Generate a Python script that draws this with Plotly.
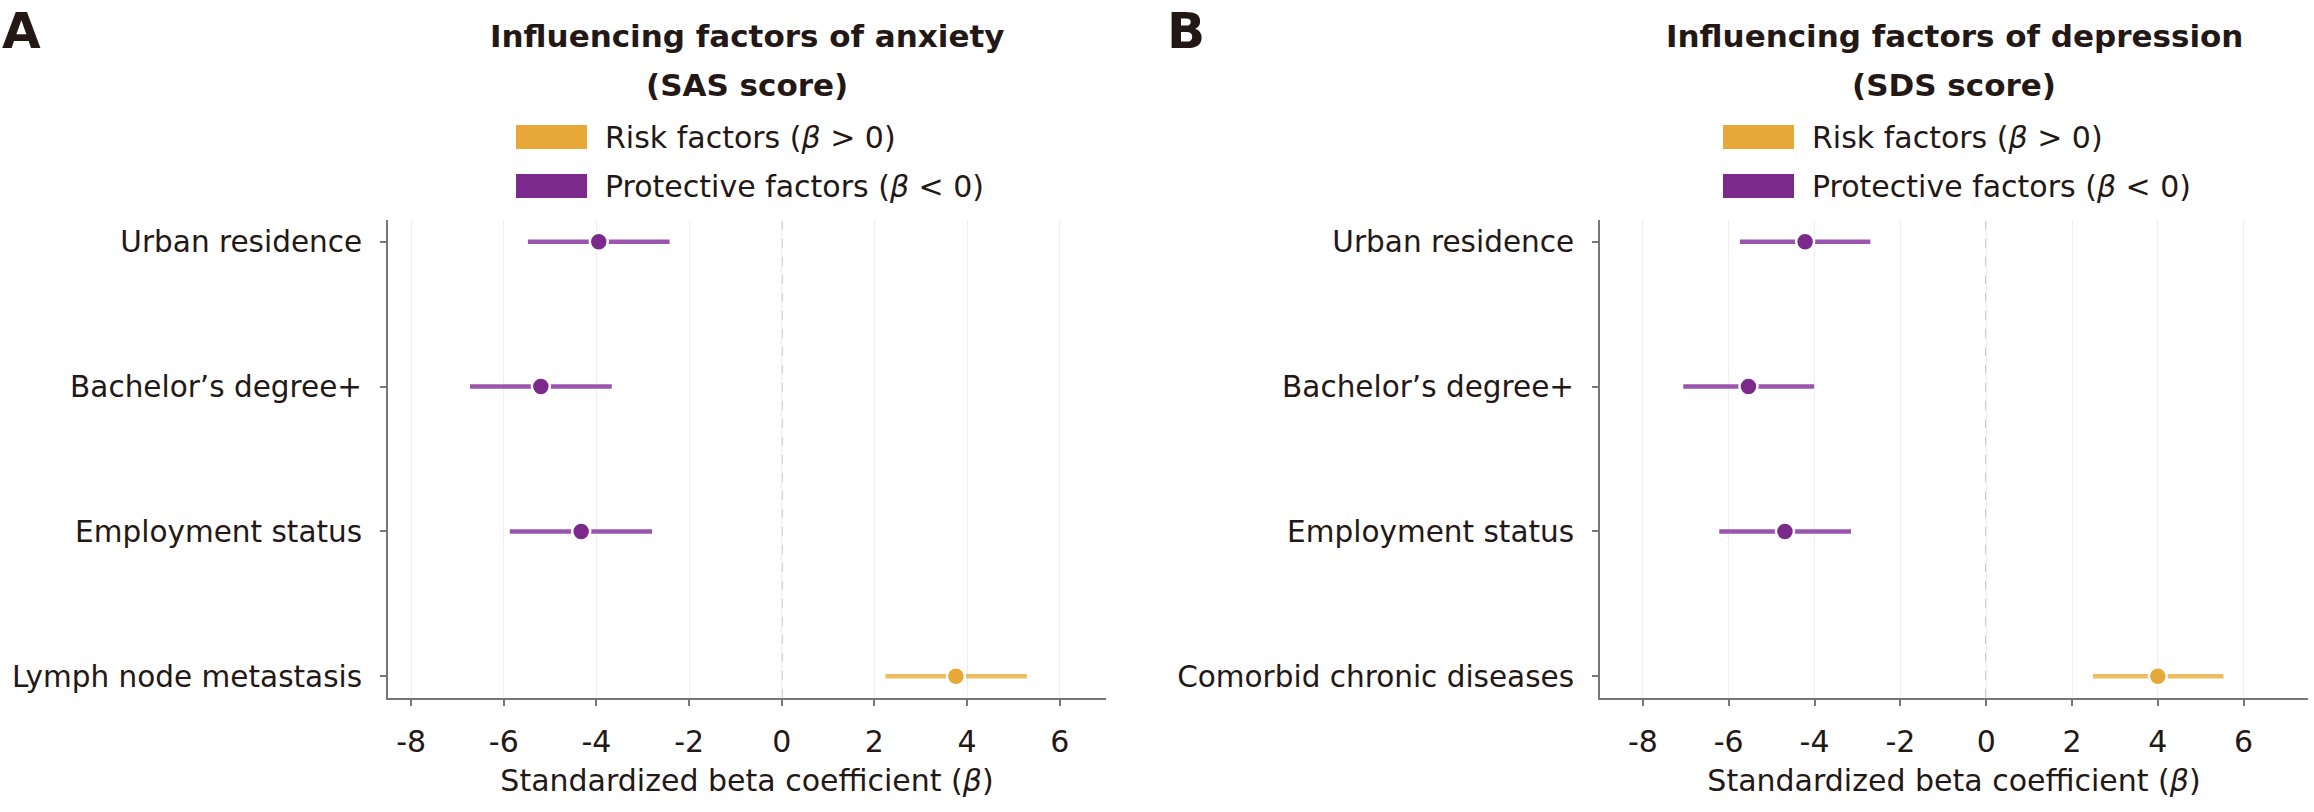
import plotly.graph_objects as go

W, H = 2314, 812

# panel A: anxiety (SAS)
factors_sas = ["Urban residence", "Bachelor’s degree+", "Employment status", "Lymph node metastasis"]
beta_sas = [-3.95, -5.20, -4.33, 3.76]
ci_low_sas = [-5.48, -6.73, -5.87, 2.24]
ci_high_sas = [-2.42, -3.67, -2.80, 5.29]

# panel B: depression (SDS)
factors_sds = ["Urban residence", "Bachelor’s degree+", "Employment status", "Comorbid chronic diseases"]
beta_sds = [-4.22, -5.54, -4.69, 4.00]
ci_low_sds = [-5.74, -7.06, -6.22, 2.49]
ci_high_sds = [-2.70, -4.01, -3.15, 5.53]

x_ticks = [-8, -6, -4, -2, 0, 2, 4, 6]
x_tick_labels = ["-8", "-6", "-4", "-2", "0", "2", "4", "6"]

RISK = "#E8A838"
RISK_LINE = "#EEBD63"
PROT = "#7B2A8C"
PROT_LINE = "#9B55AF"
FONT = "DejaVu Sans"
TXT = "#231815"


def px_x(p):
    return p / W


def px_y(p):
    return 1 - p / H


def add_forest(fig, factors, beta, lo, hi, xa, ya):
    for is_risk in (False, True):
        idx = [i for i, b in enumerate(beta) if (b > 0) == is_risk]
        if not idx:
            continue
        fig.add_trace(go.Scatter(
            x=[beta[i] for i in idx],
            y=[factors[i] for i in idx],
            xaxis=xa, yaxis=ya,
            mode="markers",
            marker=dict(size=18, color=RISK if is_risk else PROT,
                        line=dict(color="white", width=2.5)),
            error_x=dict(type="data", symmetric=False,
                         array=[hi[i] - beta[i] for i in idx],
                         arrayminus=[beta[i] - lo[i] for i in idx],
                         color=RISK_LINE if is_risk else PROT_LINE,
                         thickness=4.5, width=0),
            showlegend=False,
        ))


fig = go.Figure()
add_forest(fig, factors_sas, beta_sas, ci_low_sas, ci_high_sas, "x", "y")
add_forest(fig, factors_sds, beta_sds, ci_low_sds, ci_high_sds, "x2", "y2")

xaxis_common = dict(
    tickvals=x_ticks, ticktext=x_tick_labels,
    showgrid=True, gridcolor="#EEEEEE", gridwidth=1, zeroline=False,
    showline=True, linecolor="#777777", linewidth=2,
    ticks="outside", ticklen=6, tickcolor="#777777", tickwidth=2,
    tickfont=dict(family=FONT, size=30, color=TXT),
    ticklabelstandoff=10,
    title=dict(text="Standardized beta coefficient (<i>β</i>)",
               font=dict(family=FONT, size=30, color=TXT), standoff=12),
    fixedrange=True,
)
yaxis_common = dict(
    showgrid=False, zeroline=False,
    showline=True, linecolor="#777777", linewidth=2,
    ticks="outside", ticklen=6, tickcolor="#777777", tickwidth=2,
    tickfont=dict(family=FONT, size=29.5, color=TXT),
    ticklabelstandoff=12,
    type="category",
    range=[3.15, -0.15],
    domain=[px_y(698), px_y(220)],
    fixedrange=True,
)

fig.update_layout(
    width=W, height=H,
    margin=dict(l=0, r=0, t=0, b=0),
    paper_bgcolor="white", plot_bgcolor="white",
    font=dict(family=FONT, color=TXT),
    xaxis=dict(xaxis_common, domain=[px_x(388), px_x(1106)], range=[-8.5, 7], anchor="y"),
    yaxis=dict(yaxis_common, categoryarray=factors_sas, anchor="x"),
    xaxis2=dict(xaxis_common, domain=[px_x(1600), px_x(2308)], range=[-9, 7.5], anchor="y2"),
    yaxis2=dict(yaxis_common, categoryarray=factors_sds, anchor="x2"),
)

# dashed reference line at beta = 0
for xr, yr in (("x", "y domain"), ("x2", "y2 domain")):
    fig.add_shape(type="line", xref=xr, yref=yr, x0=0, x1=0, y0=0, y1=1,
                  line=dict(color="#A8A8A8", width=1.5, dash="dash"), layer="below")

panels = [
    ("A", 0, 747, "Influencing factors of anxiety", "(SAS score)"),
    ("B", 1165, 1954, "Influencing factors of depression", "(SDS score)"),
]
for letter, lx, cx, t1, t2 in panels:
    fig.add_annotation(text="<b>%s</b>" % letter, x=px_x(lx), y=px_y(0), xref="paper", yref="paper",
                       xanchor="left", yanchor="top", showarrow=False,
                       font=dict(family=FONT, size=50, color=TXT))
    for txt, yy in ((t1, 36), (t2, 85)):
        fig.add_annotation(text="<b>%s</b>" % txt, x=px_x(cx), y=px_y(yy), xref="paper", yref="paper",
                           xanchor="center", yanchor="middle", showarrow=False,
                           font=dict(family=FONT, size=31, color=TXT))
    # legend swatches and labels
    for col, label, yy in ((RISK, "Risk factors (<i>β</i> > 0)", 137),
                           (PROT, "Protective factors (<i>β</i> < 0)", 186)):
        fig.add_shape(type="rect", xref="paper", yref="paper",
                      x0=px_x(cx - 231), x1=px_x(cx - 160),
                      y0=px_y(yy + 12), y1=px_y(yy - 12),
                      fillcolor=col, line=dict(width=0))
        fig.add_annotation(text=label, x=px_x(cx - 144), y=px_y(yy), xref="paper", yref="paper",
                           xanchor="left", yanchor="middle", showarrow=False,
                           font=dict(family=FONT, size=30, color=TXT))

# the page body has a default 8px margin; drop it so the figure sits at 0,0
fig.write_html("out.html", config={"displayModeBar": False},
               post_script="document.body.style.margin='0';")
